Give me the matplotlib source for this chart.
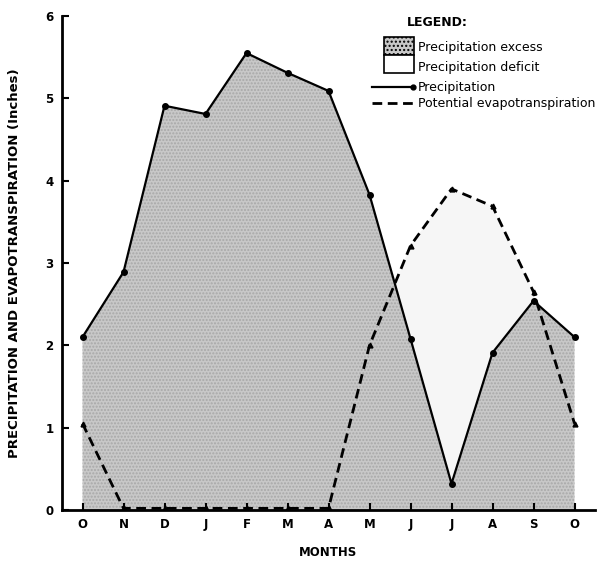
import numpy as np
import matplotlib.pyplot as plt
from matplotlib.patches import Rectangle
from matplotlib.lines import Line2D

months = ['O', 'N', 'D', 'J', 'F', 'M', 'A', 'M', 'J', 'J', 'A', 'S', 'O']
precip = [2.10, 2.89, 4.91, 4.81, 5.55, 5.31, 5.09, 3.83, 2.08, 0.32, 1.91, 2.54, 2.10]
pet = [1.05, 0.02, 0.02, 0.02, 0.02, 0.02, 0.02, 2.00, 3.21, 3.90, 3.69, 2.65, 1.05]
legend_labels = ['Precipitation excess', 'Precipitation deficit',
                 'Precipitation', 'Potential evapotranspiration']

plt.rcParams['font.family'] = ['DejaVu Sans']

W, H = 601, 562
fig = plt.figure(figsize=(W/100, H/100), dpi=100)
ax = fig.add_axes([62/W, 1-510/H, (595-62)/W, (510-16)/H])

x = np.arange(len(months))
p = np.array(precip)
e = np.array(pet)
dash = (0, (3.5, 2))

# shaded areas
ax.fill_between(x, 0, p, facecolor='#c8c8c8', edgecolor='#a8a8a8',
                hatch='.....', linewidth=0, zorder=1)
ax.fill_between(x, p, e, where=e > p, interpolate=True,
                facecolor='#f6f6f6', linewidth=0, zorder=1)

ax.plot(x, p, color='black', lw=1.6, marker='o', ms=4, zorder=3)
ax.plot(x, e, color='black', lw=2.0, ls=dash, marker='^', ms=3.5, zorder=3)

ax.set_xlim(-0.5, 12.5)
ax.set_ylim(0, 6)
ax.set_xticks(x)
ax.set_xticklabels(months)
ax.set_yticks(range(7))
for s in ['top', 'right']:
    ax.spines[s].set_visible(False)
for s in ['left', 'bottom']:
    ax.spines[s].set_linewidth(2)
ax.tick_params(direction='in', length=5, width=1.5, labelsize=8.5, pad=6)
for lab in ax.get_xticklabels() + ax.get_yticklabels():
    lab.set_fontweight('bold')

ax.set_xlabel('MONTHS', fontsize=8.5, fontweight='bold')
ax.set_ylabel('PRECIPITATION AND EVAPOTRANSPIRATION (Inches)', fontsize=9.5,
              fontweight='bold')
ax.xaxis.set_label_coords((328-62)/533, (510-546)/494)
ax.yaxis.set_label_coords((21-62)/533, 0.5)

# legend
def fx(px):
    return px / W

def fy(py):
    return 1 - py / H

fig.text(fx(407), fy(22), 'LEGEND:', fontsize=9, fontweight='bold', va='center')
fig.add_artist(Rectangle((fx(384), fy(55)), fx(30), 18/H, facecolor='#c8c8c8',
                         edgecolor='black', lw=1.2, hatch='....'))
fig.add_artist(Rectangle((fx(384), fy(73)), fx(30), 18/H, facecolor='white',
                         edgecolor='black', lw=1.2))
fig.add_artist(Line2D([fx(372), fx(413)], [fy(87), fy(87)], color='black', lw=1.6))
fig.add_artist(Line2D([fx(413)], [fy(87)], color='black', marker='o', ms=3.5))
fig.add_artist(Line2D([fx(372), fx(414)], [fy(103), fy(103)], color='black', lw=2,
                      ls=dash))
for yy, lab in zip([48, 67, 87, 103], legend_labels):
    fig.text(fx(418), fy(yy), lab, fontsize=9, fontweight='medium', va='center')

fig.savefig('out.png', dpi=100)
